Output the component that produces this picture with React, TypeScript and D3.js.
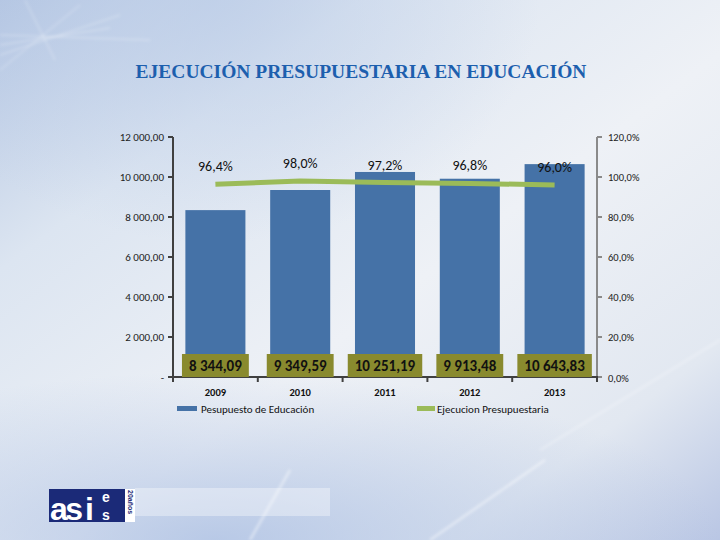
import React, { useEffect, useRef } from "react";
import * as d3 from "d3";

const years = ["2009", "2010", "2011", "2012", "2013"];
const budget = [8344.09, 9349.59, 10251.19, 9913.48, 10643.83];
const budgetLabels = ["8 344,09", "9 349,59", "10 251,19", "9 913,48", "10 643,83"];
const execution = [0.964, 0.98, 0.972, 0.968, 0.96];
const executionLabels = ["96,4%", "98,0%", "97,2%", "96,8%", "96,0%"];
const leftTicks = [0, 2000, 4000, 6000, 8000, 10000, 12000];
const leftTickLabels = ["-", "2 000,00", "4 000,00", "6 000,00", "8 000,00", "10 000,00", "12 000,00"];
const rightTicks = [0, 0.2, 0.4, 0.6, 0.8, 1.0, 1.2];
const rightTickLabels = ["0,0%", "20,0%", "40,0%", "60,0%", "80,0%", "100,0%", "120,0%"];
const seriesNames = ["Pesupuesto de Educación", "Ejecucion Presupuestaria"];
const title = "EJECUCIÓN PRESUPUESTARIA EN EDUCACIÓN";

const W = 720, H = 540;
const SANS = "Carlito, 'Liberation Sans Narrow', 'DejaVu Sans Condensed', 'Liberation Sans', sans-serif";

export default function App() {
  const ref = useRef<SVGSVGElement>(null);
  useEffect(() => {
    const svg = d3.select(ref.current);
    svg.selectAll("*").remove();

    // ---------- background ----------
    const defs = svg.append("defs");
    const lg = defs.append("linearGradient").attr("id", "bg").attr("x1", 0).attr("y1", 0).attr("x2", 1).attr("y2", 1);
    lg.append("stop").attr("offset", "0%").attr("stop-color", "#b3c5e2");
    lg.append("stop").attr("offset", "25%").attr("stop-color", "#dce5f1");
    lg.append("stop").attr("offset", "55%").attr("stop-color", "#eef1f6");
    lg.append("stop").attr("offset", "82%").attr("stop-color", "#e2e8f1");
    lg.append("stop").attr("offset", "100%").attr("stop-color", "#b9c6e4");
    const rg = defs.append("radialGradient").attr("id", "bottomBlue").attr("cx", 0.3).attr("cy", 1).attr("r", 0.7);
    rg.append("stop").attr("offset", "0%").attr("stop-color", "#a8bde2").attr("stop-opacity", 0.75);
    rg.append("stop").attr("offset", "100%").attr("stop-color", "#a8bde2").attr("stop-opacity", 0);
    const rg2 = defs.append("radialGradient").attr("id", "topBlue").attr("cx", 0.3).attr("cy", 0).attr("r", 0.45);
    rg2.append("stop").attr("offset", "0%").attr("stop-color", "#bccde8").attr("stop-opacity", 0.7);
    rg2.append("stop").attr("offset", "100%").attr("stop-color", "#bccde8").attr("stop-opacity", 0);
    const blur = defs.append("filter").attr("id", "blur").attr("x", "-20%").attr("y", "-20%").attr("width", "140%").attr("height", "140%");
    blur.append("feGaussianBlur").attr("stdDeviation", 1.5);

    svg.append("rect").attr("width", W).attr("height", H).attr("fill", "url(#bg)");
    svg.append("rect").attr("width", W).attr("height", H).attr("fill", "url(#topBlue)");
    svg.append("rect").attr("y", 300).attr("width", W).attr("height", 240).attr("fill", "url(#bottomBlue)");

    const streaks = svg.append("g").attr("filter", "url(#blur)").attr("fill", "none").attr("stroke", "#ffffff");
    [[0, 55, 120, 15], [0, 45, 110, 28], [0, 70, 80, 5], [25, 0, 55, 60], [0, 35, 150, 40]].forEach(([a, b, c, d]) =>
      streaks.append("line").attr("x1", a).attr("y1", b).attr("x2", c).attr("y2", d).attr("stroke-opacity", 0.4).attr("stroke-width", 1));
    streaks.append("line").attr("x1", 250).attr("y1", 540).attr("x2", 290).attr("y2", 470).attr("stroke-opacity", 0.55).attr("stroke-width", 2);
    streaks.append("line").attr("x1", 430).attr("y1", 540).attr("x2", 545).attr("y2", 460).attr("stroke-opacity", 0.55).attr("stroke-width", 2);
    streaks.append("line").attr("x1", 540).attr("y1", 450).attr("x2", 720).attr("y2", 340).attr("stroke-opacity", 0.35).attr("stroke-width", 1.5);

    // logo band
    svg.append("rect").attr("x", 135).attr("y", 488).attr("width", 195).attr("height", 28).attr("fill", "#ffffff").attr("fill-opacity", 0.35);
    const logo = svg.append("g").attr("font-family", "'Liberation Sans', Arial, sans-serif").attr("font-weight", "bold").attr("fill", "#ffffff");
    logo.append("rect").attr("x", 49).attr("y", 489).attr("width", 76).attr("height", 33).attr("fill", "#1b2a78");
    logo.append("text").attr("x", 50).attr("y", 520).attr("font-size", 32).attr("letter-spacing", -2.5).text("as");
    logo.append("text").attr("x", 85).attr("y", 520).attr("font-size", 32).text("i");
    logo.append("text").attr("x", 102).attr("y", 502).attr("font-size", 14).text("e");
    logo.append("text").attr("x", 102).attr("y", 520).attr("font-size", 14).text("s");
    logo.append("rect").attr("x", 125).attr("y", 489).attr("width", 10).attr("height", 33).attr("fill", "#ffffff");
    logo.append("text").attr("transform", "translate(128,490) rotate(90)").attr("font-size", 7).attr("fill", "#1b2a78").text("20años");

    // ---------- title ----------
    svg.append("text").attr("x", 361).attr("y", 78).attr("text-anchor", "middle")
      .attr("font-family", "'Liberation Serif', 'Times New Roman', serif").attr("font-weight", "bold").attr("font-size", 19.5)
      .attr("fill", "#1d5fae").text(title);

    // ---------- scales ----------
    const x = d3.scaleBand().domain(years).range([173, 597]).paddingInner(0.292).paddingOuter(0.146);
    const yL = d3.scaleLinear().domain([0, 12000]).range([377, 137]);
    const yR = d3.scaleLinear().domain([0, 1.2]).range([377, 137]);

    // bars
    const bars = svg.append("g");
    years.forEach((yr, i) => {
      bars.append("rect").attr("x", x(yr)!).attr("y", yL(budget[i])).attr("width", x.bandwidth())
        .attr("height", yL(0) - yL(budget[i])).attr("fill", "#4572a7");
    });

    // left axis
    const axL = svg.append("g").attr("font-family", SANS).attr("font-size", 11).attr("fill", "#222");
    axL.append("line").attr("x1", 173).attr("x2", 173).attr("y1", yL(12000)).attr("y2", yL(0)).attr("stroke", "#404040").attr("stroke-width", 2);
    leftTicks.forEach((t, i) => {
      axL.append("line").attr("x1", 168).attr("x2", 173).attr("y1", yL(t)).attr("y2", yL(t)).attr("stroke", "#404040").attr("stroke-width", 2);
      axL.append("text").attr("x", 164).attr("y", yL(t)).attr("dy", "0.35em").attr("text-anchor", "end").text(leftTickLabels[i]);
    });

    // right axis
    const axR = svg.append("g").attr("font-family", SANS).attr("font-size", 10.5).attr("fill", "#222");
    axR.append("line").attr("x1", 597).attr("x2", 597).attr("y1", yR(1.2)).attr("y2", yR(0)).attr("stroke", "#8a8a8a").attr("stroke-width", 2);
    rightTicks.forEach((t, i) => {
      axR.append("line").attr("x1", 597).attr("x2", 602).attr("y1", yR(t)).attr("y2", yR(t)).attr("stroke", "#8a8a8a").attr("stroke-width", 2);
      axR.append("text").attr("x", 608).attr("y", yR(t) + (t === 0 ? 1 : 0)).attr("dy", "0.35em").text(rightTickLabels[i]);
    });

    // bottom axis
    const step = x.step();
    const axB = svg.append("g");
    axB.append("line").attr("x1", 172).attr("x2", 598).attr("y1", 377).attr("y2", 377).attr("stroke", "#404040").attr("stroke-width", 2);
    d3.range(years.length + 1).forEach((k) => {
      const xx = 173 + k * step;
      axB.append("line").attr("x1", xx).attr("x2", xx).attr("y1", 377).attr("y2", 382).attr("stroke", "#404040").attr("stroke-width", 2);
    });
    years.forEach((yr) => {
      axB.append("text").attr("x", x(yr)! + x.bandwidth() / 2).attr("y", 396).attr("text-anchor", "middle")
        .attr("font-family", SANS).attr("font-size", 10.5).attr("font-weight", "bold").attr("fill", "#111").text(yr);
    });

    // bar data labels (olive boxes)
    const lab = svg.append("g");
    years.forEach((yr, i) => {
      const cx = x(yr)! + x.bandwidth() / 2;
      const g = lab.append("g");
      const r = g.append("rect").attr("fill", "#898a2e");
      const t = g.append("text").attr("x", cx).attr("y", 366).attr("dy", "0.35em").attr("text-anchor", "middle")
        .attr("font-family", SANS).attr("font-size", 15).attr("font-weight", "bold").attr("fill", "#111").text(budgetLabels[i]);
      const w = (t.node() as SVGTextElement).getComputedTextLength() + 14;
      r.attr("x", cx - w / 2).attr("y", 354).attr("width", w).attr("height", 23);
    });

    // line
    const line = d3.line<number>().x((_, i) => x(years[i])! + x.bandwidth() / 2).y((d) => yR(d)).curve(d3.curveLinear);
    svg.append("path").attr("d", line(execution)).attr("fill", "none").attr("stroke", "#9bbb59").attr("stroke-width", 5);

    // line labels
    years.forEach((yr, i) => {
      svg.append("text").attr("x", x(yr)! + x.bandwidth() / 2).attr("y", yR(execution[i]) - 18).attr("dy", "0.35em")
        .attr("text-anchor", "middle").attr("font-family", SANS).attr("font-size", 14).attr("fill", "#111").text(executionLabels[i]);
    });

    // legend
    const leg = svg.append("g").attr("font-family", SANS).attr("font-size", 11).attr("fill", "#111");
    leg.append("rect").attr("x", 177).attr("y", 406).attr("width", 20).attr("height", 5).attr("fill", "#4572a7");
    leg.append("text").attr("x", 201).attr("y", 409).attr("dy", "0.35em").text(seriesNames[0]);
    leg.append("rect").attr("x", 417).attr("y", 406).attr("width", 18).attr("height", 5).attr("fill", "#9bbb59");
    leg.append("text").attr("x", 437).attr("y", 409).attr("dy", "0.35em").text(seriesNames[1]);
  }, []);

  return (
    <svg ref={ref} width={W} height={H} style={{ position: "fixed", left: 0, top: 0, display: "block" }} />
  );
}
